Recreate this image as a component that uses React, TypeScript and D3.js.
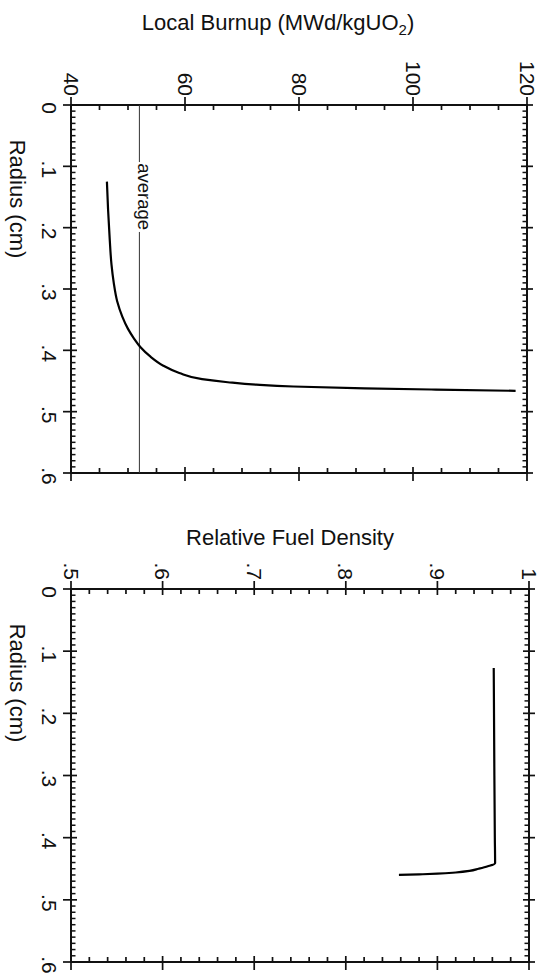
import React from "react";
import * as d3 from "d3";

// ---- data ----
const burnupRadius = [0.125, 0.17, 0.22, 0.26, 0.29, 0.32, 0.345, 0.365, 0.38, 0.395, 0.41, 0.425, 0.437, 0.447, 0.452, 0.456, 0.459, 0.462, 0.464, 0.466];
const burnupValues = [46.3, 46.5, 46.8, 47.1, 47.5, 48.1, 49.0, 50.0, 51.0, 52.2, 53.9, 56.2, 59.0, 63.0, 67.5, 72.5, 79.0, 91.5, 104, 118];
const averageBurnup = 52;
const averageLabel = "average";

const densityRadius = [0.127, 0.2, 0.3, 0.4, 0.441, 0.446, 0.45, 0.4535, 0.456, 0.458, 0.459, 0.46];
const densityValues = [0.9615, 0.9618, 0.9622, 0.9627, 0.963, 0.955, 0.945, 0.935, 0.92, 0.9, 0.88, 0.858];

const radiusTicks = [0, 0.1, 0.2, 0.3, 0.4, 0.5, 0.6];
const radiusTickLabels = ["0", ".1", ".2", ".3", ".4", ".5", ".6"];
const burnupTicks = [40, 60, 80, 100, 120];
const burnupTickLabels = ["40", "60", "80", "100", "120"];
const densityTicks = [0.5, 0.6, 0.7, 0.8, 0.9, 1.0];
const densityTickLabels = [".5", ".6", ".7", ".8", ".9", "1"];

const FONT = "'Liberation Sans', Arial, Helvetica, sans-serif";

type PanelProps = {
  top: number;
  bottom: number;
  left: number;
  right: number;
  vDomain: [number, number];
  vTicks: number[];
  vLabels: string[];
  vMinorStep: number;
  radii: number[];
  values: number[];
  avg?: number;
};

function Panel(p: PanelProps) {
  const x = d3.scaleLinear().domain(p.vDomain).range([p.left, p.right]);
  const y = d3.scaleLinear().domain([0, 0.6]).range([p.top, p.bottom]);
  const line = d3
    .line<number>()
    .x((_, i) => x(p.values[i]))
    .y((r) => y(r))
    .curve(d3.curveMonotoneY);

  const vMinor = d3
    .range(p.vDomain[0], p.vDomain[1] + p.vMinorStep / 2, p.vMinorStep)
    .filter((v) => !p.vTicks.some((t) => Math.abs(t - v) < p.vMinorStep / 10));
  const rMinor = d3
    .range(0, 0.6 + 0.005, 0.01)
    .filter((v) => !radiusTicks.some((t) => Math.abs(t - v) < 0.001));

  const sw = 1.7;
  return (
    <g>
      {/* frame */}
      <rect x={p.left} y={p.top} width={p.right - p.left} height={p.bottom - p.top} fill="none" stroke="#111" strokeWidth={2} />
      {/* value axis ticks top & bottom */}
      {p.vTicks.map((t, i) => (
        <g key={"vt" + i}>
          <line x1={x(t)} x2={x(t)} y1={p.top - 8} y2={p.top + 6} stroke="#111" strokeWidth={sw} />
          <line x1={x(t)} x2={x(t)} y1={p.bottom + 8} y2={p.bottom - 6} stroke="#111" strokeWidth={sw} />
          <text
            transform={`translate(${x(t)},${p.top - 9}) rotate(90)`}
            textAnchor="end"
            dy="0.35em"
            fontFamily={FONT}
            fontSize={21}
            fill="#111"
          >
            {p.vLabels[i]}
          </text>
        </g>
      ))}
      {vMinor.map((t, i) => (
        <g key={"vm" + i}>
          <line x1={x(t)} x2={x(t)} y1={p.top} y2={p.top + 5} stroke="#111" strokeWidth={sw} />
          <line x1={x(t)} x2={x(t)} y1={p.bottom} y2={p.bottom - 5} stroke="#111" strokeWidth={sw} />
        </g>
      ))}
      {/* radius ticks left & right */}
      {radiusTicks.map((t, i) => (
        <g key={"rt" + i}>
          <line x1={p.left - 8} x2={p.left + 6} y1={y(t)} y2={y(t)} stroke="#111" strokeWidth={sw} />
          <line x1={p.right + 6} x2={p.right - 6} y1={y(t)} y2={y(t)} stroke="#111" strokeWidth={sw} />
          <text
            transform={`translate(${p.left - 29},${y(t) + 3}) rotate(90)`}
            textAnchor="middle"
            fontFamily={FONT}
            fontSize={21}
            fill="#111"
          >
            {radiusTickLabels[i]}
          </text>
        </g>
      ))}
      {rMinor.map((t, i) => (
        <g key={"rm" + i}>
          <line x1={p.left} x2={p.left + 4.5} y1={y(t)} y2={y(t)} stroke="#111" strokeWidth={1.5} />
          <line x1={p.right} x2={p.right - 4.5} y1={y(t)} y2={y(t)} stroke="#111" strokeWidth={1.5} />
        </g>
      ))}
      {/* radius title */}
      <text
        transform={`translate(10,${p.top + 94}) rotate(90)`}
        textAnchor="middle"
        fontFamily={FONT}
        fontSize={22}
        fill="#111"
      >
        Radius (cm)
      </text>
      {/* average line */}
      {p.avg !== undefined && (
        <g>
          <line x1={x(p.avg)} x2={x(p.avg)} y1={p.top} y2={p.bottom} stroke="#333" strokeWidth={1} />
          <rect x={x(p.avg) - 2} y={y(0.093)} width={4} height={y(0.207) - y(0.093)} fill="#fff" />
          <text
            transform={`translate(${x(p.avg) - 1},${y(0.095)}) rotate(90)`}
            textAnchor="start"
            fontFamily={FONT}
            fontSize={18.5}
            fill="#111"
          >
            {averageLabel}
          </text>
        </g>
      )}
      {/* data curve */}
      <path d={line(p.radii) || ""} fill="none" stroke="#000" strokeWidth={2.2} />
    </g>
  );
}

export default function App() {
  return (
    <svg width={548} height={979} style={{ position: "absolute", left: 0, top: 0, background: "#fff" }}>
      <rect width={548} height={979} fill="#fff" />
      <text x={278} y={30} textAnchor="middle" fontFamily={FONT} fontSize={22} fill="#111">
        Local Burnup (MWd/kgUO
        <tspan fontSize={15} dy={5}>2</tspan>
        <tspan dy={-5}>)</tspan>
      </text>
      <Panel
        top={105}
        bottom={473}
        left={71}
        right={527}
        vDomain={[40, 120]}
        vTicks={burnupTicks}
        vLabels={burnupTickLabels}
        vMinorStep={5}
        radii={burnupRadius}
        values={burnupValues}
        avg={averageBurnup}
      />
      <text x={290} y={545} textAnchor="middle" fontFamily={FONT} fontSize={22} fill="#111">
        Relative Fuel Density
      </text>
      <Panel
        top={589}
        bottom={962}
        left={71}
        right={529}
        vDomain={[0.5, 1.0]}
        vTicks={densityTicks}
        vLabels={densityTickLabels}
        vMinorStep={0.02}
        radii={densityRadius}
        values={densityValues}
      />
    </svg>
  );
}
